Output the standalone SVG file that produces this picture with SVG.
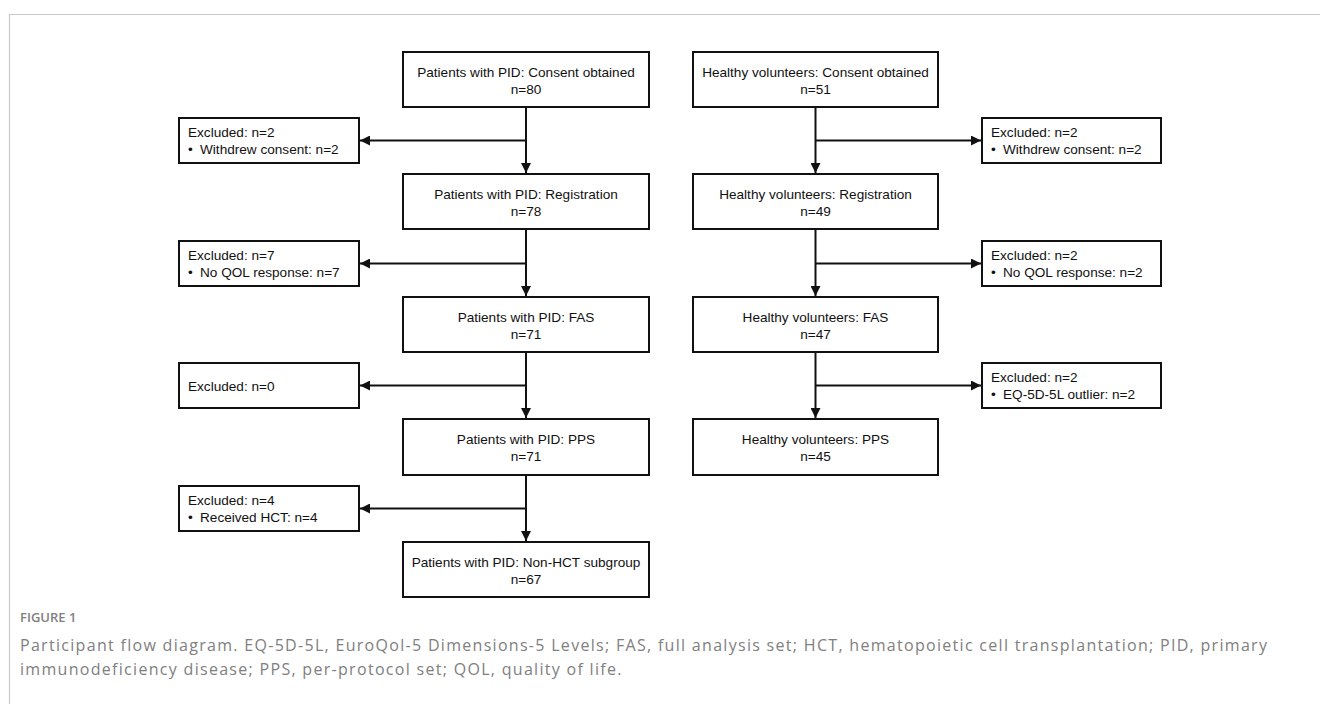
<svg xmlns="http://www.w3.org/2000/svg" width="1320" height="704" viewBox="0 0 1320 704">
<style>
.box{fill:#fff;stroke:#111;stroke-width:2}
.t{font-family:"Liberation Sans",Arial,sans-serif;font-size:13.6px;fill:#111}
.c{text-anchor:middle}
.ln{fill:none;stroke:#111;stroke-width:2}
.frame{fill:none;stroke:#c8c8c8;stroke-width:1.2}
.cap{font-family:"Open Sans",sans-serif;fill:#808080}
</style>
<defs>
<marker id="ah" markerUnits="userSpaceOnUse" markerWidth="10" markerHeight="10" viewBox="0 0 10 10" refX="10" refY="5" orient="auto">
<path d="M0,0 L10,5 L0,10 Z" fill="#111"/>
</marker>
</defs>
<rect width="1320" height="704" fill="#fff"/>
<path class="frame" d="M1320,14.5 H9.5 V704"/>

<g id="connectors">
<line class="ln" x1="526" y1="107" x2="526" y2="173" marker-end="url(#ah)"/>
<line class="ln" x1="526" y1="140.5" x2="360" y2="140.5" marker-end="url(#ah)"/>
<line class="ln" x1="526" y1="229" x2="526" y2="296" marker-end="url(#ah)"/>
<line class="ln" x1="526" y1="263.5" x2="360" y2="263.5" marker-end="url(#ah)"/>
<line class="ln" x1="526" y1="352" x2="526" y2="418" marker-end="url(#ah)"/>
<line class="ln" x1="526" y1="385.5" x2="360" y2="385.5" marker-end="url(#ah)"/>
<line class="ln" x1="526" y1="475" x2="526" y2="541" marker-end="url(#ah)"/>
<line class="ln" x1="526" y1="508.5" x2="360" y2="508.5" marker-end="url(#ah)"/>
<line class="ln" x1="815.5" y1="107" x2="815.5" y2="173" marker-end="url(#ah)"/>
<line class="ln" x1="815.5" y1="140.5" x2="981" y2="140.5" marker-end="url(#ah)"/>
<line class="ln" x1="815.5" y1="229" x2="815.5" y2="296" marker-end="url(#ah)"/>
<line class="ln" x1="815.5" y1="263.5" x2="981" y2="263.5" marker-end="url(#ah)"/>
<line class="ln" x1="815.5" y1="352" x2="815.5" y2="418" marker-end="url(#ah)"/>
<line class="ln" x1="815.5" y1="385.5" x2="981" y2="385.5" marker-end="url(#ah)"/>
</g>

<g id="pid-consent"><rect class="box" x="403" y="52" width="246" height="55"/>
<text class="t c" x="526" y="76.5">Patients with PID: Consent obtained</text><text class="t c" x="526" y="93.5">n=80</text></g>
<g id="pid-registration"><rect class="box" x="403" y="174" width="246" height="55"/>
<text class="t c" x="526" y="198.5">Patients with PID: Registration</text><text class="t c" x="526" y="215.5">n=78</text></g>
<g id="pid-fas"><rect class="box" x="403" y="297" width="246" height="55"/>
<text class="t c" x="526" y="321.5">Patients with PID: FAS</text><text class="t c" x="526" y="338.5">n=71</text></g>
<g id="pid-pps"><rect class="box" x="403" y="419" width="246" height="56"/>
<text class="t c" x="526" y="444">Patients with PID: PPS</text><text class="t c" x="526" y="461">n=71</text></g>
<g id="pid-nonhct"><rect class="box" x="403" y="542" width="246" height="55"/>
<text class="t c" x="526" y="566.5">Patients with PID: Non-HCT subgroup</text><text class="t c" x="526" y="583.5">n=67</text></g>

<g id="pid-excl1"><rect class="box" x="179" y="118" width="180" height="45"/>
<text class="t" x="188" y="137">Excluded: n=2</text><text class="t" x="188" y="154">•<tspan x="200">Withdrew consent: n=2</tspan></text></g>
<g id="pid-excl2"><rect class="box" x="179" y="241" width="180" height="45"/>
<text class="t" x="188" y="260">Excluded: n=7</text><text class="t" x="188" y="277">•<tspan x="200">No QOL response: n=7</tspan></text></g>
<g id="pid-excl3"><rect class="box" x="179" y="363" width="180" height="45"/>
<text class="t" x="188" y="390.5">Excluded: n=0</text></g>
<g id="pid-excl4"><rect class="box" x="179" y="486" width="180" height="45"/>
<text class="t" x="188" y="505">Excluded: n=4</text><text class="t" x="188" y="522">•<tspan x="200">Received HCT: n=4</tspan></text></g>

<g id="hv-consent"><rect class="box" x="693" y="52" width="245" height="55"/>
<text class="t c" x="815.5" y="76.5">Healthy volunteers: Consent obtained</text><text class="t c" x="815.5" y="93.5">n=51</text></g>
<g id="hv-registration"><rect class="box" x="693" y="174" width="245" height="55"/>
<text class="t c" x="815.5" y="198.5">Healthy volunteers: Registration</text><text class="t c" x="815.5" y="215.5">n=49</text></g>
<g id="hv-fas"><rect class="box" x="693" y="297" width="245" height="55"/>
<text class="t c" x="815.5" y="321.5">Healthy volunteers: FAS</text><text class="t c" x="815.5" y="338.5">n=47</text></g>
<g id="hv-pps"><rect class="box" x="693" y="419" width="245" height="56"/>
<text class="t c" x="815.5" y="444">Healthy volunteers: PPS</text><text class="t c" x="815.5" y="461">n=45</text></g>

<g id="hv-excl1"><rect class="box" x="982" y="118" width="179" height="45"/>
<text class="t" x="991" y="137">Excluded: n=2</text><text class="t" x="991" y="154">•<tspan x="1003">Withdrew consent: n=2</tspan></text></g>
<g id="hv-excl2"><rect class="box" x="982" y="241" width="179" height="45"/>
<text class="t" x="991" y="260">Excluded: n=2</text><text class="t" x="991" y="277">•<tspan x="1003">No QOL response: n=2</tspan></text></g>
<g id="hv-excl3"><rect class="box" x="982" y="363" width="179" height="45"/>
<text class="t" x="991" y="382">Excluded: n=2</text><text class="t" x="991" y="399">•<tspan x="1003">EQ-5D-5L outlier: n=2</tspan></text></g>

<g id="caption">
<text class="cap" x="20" y="622" font-size="13" font-weight="600" fill="#777">FIGURE 1</text>
<text class="cap" x="20" y="651" font-size="16" letter-spacing="1.3">Participant flow diagram. EQ-5D-5L, EuroQol-5 Dimensions-5 Levels; FAS, full analysis set; HCT, hematopoietic cell transplantation; PID, primary</text>
<text class="cap" x="20" y="675" font-size="16" letter-spacing="1.3">immunodeficiency disease; PPS, per-protocol set; QOL, quality of life.</text>
</g>
</svg>
